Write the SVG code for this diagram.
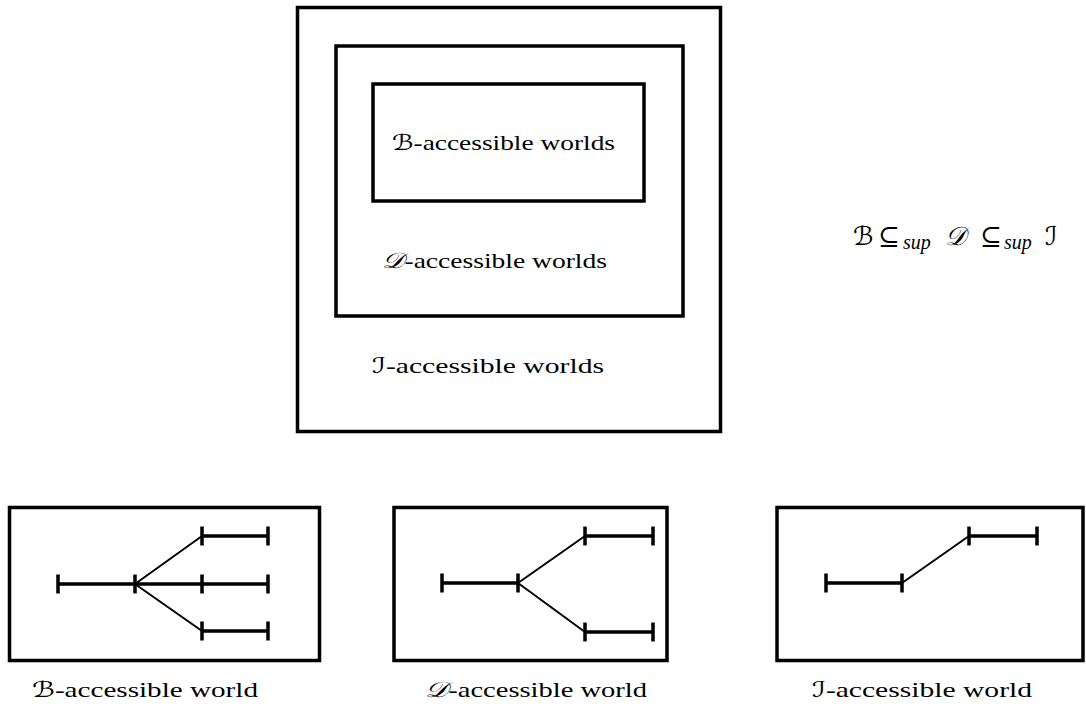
<svg xmlns="http://www.w3.org/2000/svg" width="1086" height="707" viewBox="0 0 1086 707">
<style>
.box{fill:none;stroke:#000;stroke-width:3.5}
.seg{stroke:#000;stroke-width:3.5;stroke-linecap:butt}
.diag{stroke:#000;stroke-width:2;fill:none}
.lbl{font-family:"Liberation Serif","Times New Roman",serif;font-size:22px;fill:#000}
.cal{font-family:"DejaVu Serif","DejaVu Sans",serif;font-style:italic}
.it{font-family:"Liberation Serif",serif;font-style:italic}
.fm{font-family:"Liberation Serif","DejaVu Serif",serif;font-size:26px;fill:#000}
.sub{font-family:"Liberation Serif",serif;font-style:italic;font-size:20px}
</style>
<rect width="1086" height="707" fill="#fff"/>
<g id="nested-sets">
<g id="I-worlds"><rect class="box" x="297.5" y="7.5" width="423" height="424"/><text class="lbl" x="372" y="373" textLength="232" lengthAdjust="spacingAndGlyphs"><tspan class="cal">ℐ</tspan>-accessible worlds</text></g>
<g id="D-worlds"><rect class="box" x="336" y="46" width="347" height="270"/><text class="lbl" x="382" y="268" textLength="225" lengthAdjust="spacingAndGlyphs"><tspan class="cal">𝒟</tspan>-accessible worlds</text></g>
<g id="B-worlds"><rect class="box" x="373" y="84" width="271" height="117"/><text class="lbl" x="392" y="150" textLength="223" lengthAdjust="spacingAndGlyphs"><tspan class="cal">ℬ</tspan>-accessible worlds</text></g>
</g>
<g id="formula"><text class="fm" y="245"><tspan class="cal" x="853">ℬ</tspan><tspan x="878">⊆</tspan><tspan class="sub" x="903" y="249">sup</tspan><tspan class="cal" x="945" y="245">𝒟</tspan><tspan x="980">⊆</tspan><tspan class="sub" x="1004" y="249">sup</tspan><tspan class="cal" x="1045" y="245">ℐ</tspan></text></g>
<g id="B-world"><rect class="box" x="9.5" y="507.5" width="310" height="153"/><text class="lbl" x="32" y="697" textLength="226" lengthAdjust="spacingAndGlyphs"><tspan class="cal">ℬ</tspan>-accessible world</text></g>
<g id="D-world"><rect class="box" x="394" y="507.5" width="273" height="153"/><text class="lbl" x="425" y="697" textLength="222" lengthAdjust="spacingAndGlyphs"><tspan class="cal">𝒟</tspan>-accessible world</text></g>
<g id="I-world"><rect class="box" x="777" y="507.5" width="306" height="153"/><text class="lbl" x="812" y="697" textLength="220" lengthAdjust="spacingAndGlyphs"><tspan class="cal">ℐ</tspan>-accessible world</text></g>
<g id="connectors">
<path class="seg" d="M58 584H268M58 574.5V593.5M135 574.5V593.5M202 574.5V593.5M268 574.5V593.5M202 536H268M202 526.5V545.5M268 526.5V545.5M202 631H268M202 621.5V640.5M268 621.5V640.5"/>
<path class="diag" d="M135 584L202 536M135 584L202 631"/>
<path class="seg" d="M442 583H518M442 573.5V592.5M518 573.5V592.5M585 536H653M585 526.5V545.5M653 526.5V545.5M585 632H653M585 622.5V641.5M653 622.5V641.5"/>
<path class="diag" d="M518 583L585 536M518 583L585 632"/>
<path class="seg" d="M826 583H902M826 573.5V592.5M902 573.5V592.5M969 536H1037M969 526.5V545.5M1037 526.5V545.5"/>
<path class="diag" d="M902 583L969 536"/>
</g>
</svg>
